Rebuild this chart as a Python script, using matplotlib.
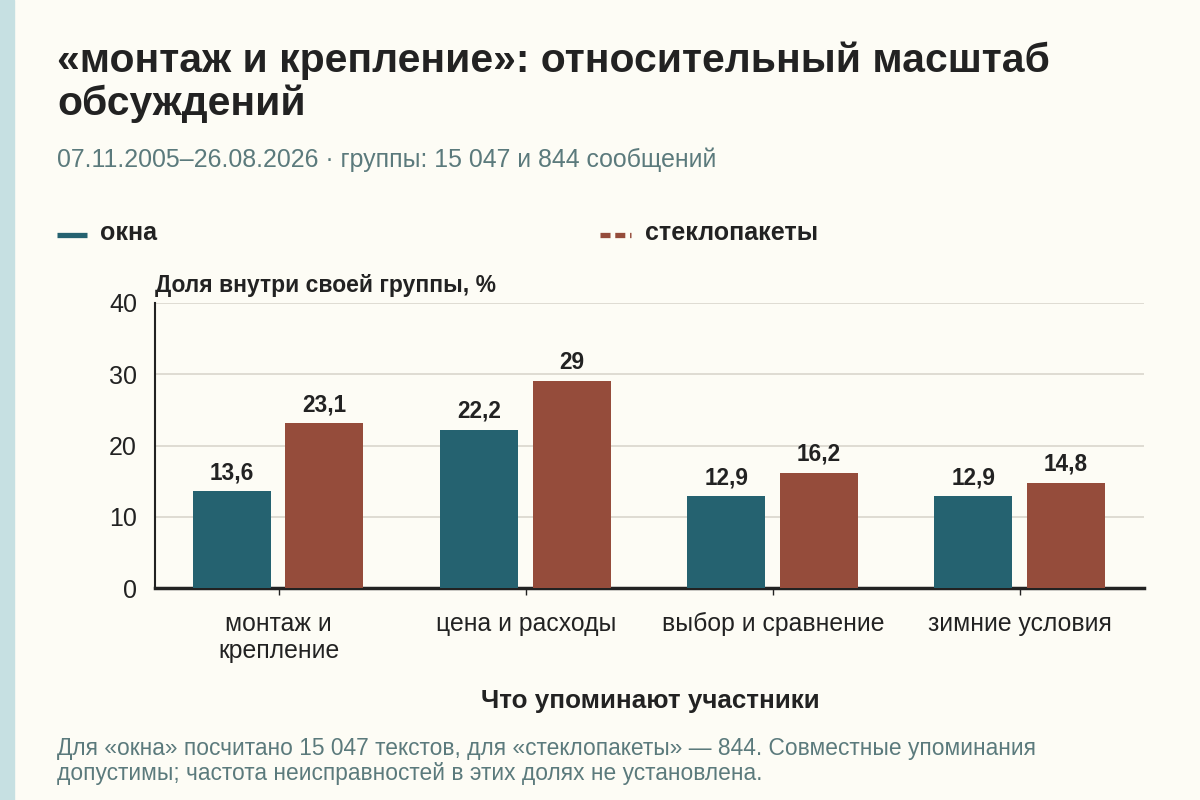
import matplotlib
matplotlib.use("Agg")
import matplotlib.pyplot as plt
import numpy as np
from matplotlib.lines import Line2D
from matplotlib.patches import Rectangle

plt.rcParams["font.family"] = ["Liberation Sans", "DejaVu Sans"]

# Данные
categories = ["монтаж и\nкрепление", "цена и расходы", "выбор и сравнение", "зимние условия"]
okna = [13.6, 22.2, 12.9, 12.9]
steklopakety = [23.1, 29, 16.2, 14.8]
series_names = ["окна", "стеклопакеты"]
y_ticks = [0, 10, 20, 30, 40]

# Цвета
bg = "#fdfcf5"
teal = "#256270"
rust = "#954c3b"
dark = "#222222"
muted = "#5b7a7c"
grid_c = "#d9d6cd"

fig = plt.figure(figsize=(12, 8), dpi=100, facecolor=bg)
fig.patches.append(Rectangle((0, 0), 14 / 1200, 1, transform=fig.transFigure,
                             color="#c6e0e2", zorder=0))

# Заголовки
fig.text(57 / 1200, 1 - 72 / 800, "«монтаж и крепление»: относительный масштаб",
         fontsize=29.4, fontweight="bold", color=dark, va="baseline")
fig.text(57 / 1200, 1 - 115 / 800, "обсуждений",
         fontsize=29.4, fontweight="bold", color=dark, va="baseline")
fig.text(57 / 1200, 1 - 167 / 800,
         "07.11.2005–26.08.2026 · группы: 15 047 и 844 сообщений",
         fontsize=17.9, color=muted, va="baseline")

# Легенда
fig.lines.append(Line2D([57 / 1200, 87 / 1200], [1 - 235 / 800] * 2,
                        transform=fig.transFigure, color=teal, lw=3.8,
                        solid_capstyle="butt"))
fig.text(100 / 1200, 1 - 240 / 800, series_names[0], fontsize=18,
         fontweight="bold", color=dark, va="baseline")
fig.lines.append(Line2D([600 / 1200, 631 / 1200], [1 - 235 / 800] * 2,
                        transform=fig.transFigure, color=rust, lw=3.8,
                        linestyle=(0, (1.9, 0.9)), dash_capstyle="butt"))
fig.text(645 / 1200, 1 - 240 / 800, series_names[1], fontsize=18,
         fontweight="bold", color=dark, va="baseline")

# График
ax = fig.add_axes([155 / 1200, 1 - 588 / 800, 989 / 1200, 285 / 800])
ax.set_facecolor(bg)
x = np.arange(len(categories))
w = 0.315
b1 = ax.bar(x - 0.19, okna, w, color=teal, zorder=3)
b2 = ax.bar(x + 0.185, steklopakety, w, color=rust, zorder=3)

fmt = lambda v: f"{v:g}".replace(".", ",")
for bars in (b1, b2):
    ax.bar_label(bars, labels=[fmt(v) for v in bars.datavalues], padding=5,
                 fontsize=16.3, fontweight="bold", color=dark)

ax.set_xlim(-0.5, len(categories) - 0.5)
ax.set_ylim(0, 40)
ax.set_yticks(y_ticks)
ax.set_yticklabels([str(t) for t in y_ticks], fontsize=18, color=dark)
ax.set_xticks(x)
ax.set_xticklabels(categories, fontsize=17.8, color=dark, linespacing=1.2)
ax.tick_params(axis="y", length=0, pad=13)
ax.tick_params(axis="x", length=5, width=1, color=dark, pad=12)
ax.grid(axis="y", color=grid_c, lw=1.2, zorder=0)
ax.set_axisbelow(True)
for s in ("top", "right"):
    ax.spines[s].set_visible(False)
ax.spines["left"].set_color(dark)
ax.spines["left"].set_linewidth(1.5)
ax.spines["bottom"].set_color(dark)
ax.spines["bottom"].set_linewidth(2.5)

ax.text(0, 1.02, "Доля внутри своей группы, %", transform=ax.transAxes,
        fontsize=16.5, fontweight="bold", color=dark, va="bottom", ha="left")
fig.text(650 / 1200, 1 - 708 / 800, "Что упоминают участники", fontsize=18.7,
         fontweight="bold", color=dark, ha="center", va="baseline")

# Примечание
fig.text(57 / 1200, 1 - 755 / 800,
         "Для «окна» посчитано 15 047 текстов, для «стеклопакеты» — 844. Совместные упоминания",
         fontsize=16.4, color=muted, va="baseline")
fig.text(57 / 1200, 1 - 780 / 800,
         "допустимы; частота неисправностей в этих долях не установлена.",
         fontsize=16.4, color=muted, va="baseline")

fig.savefig("out.png", dpi=100, facecolor=bg)
